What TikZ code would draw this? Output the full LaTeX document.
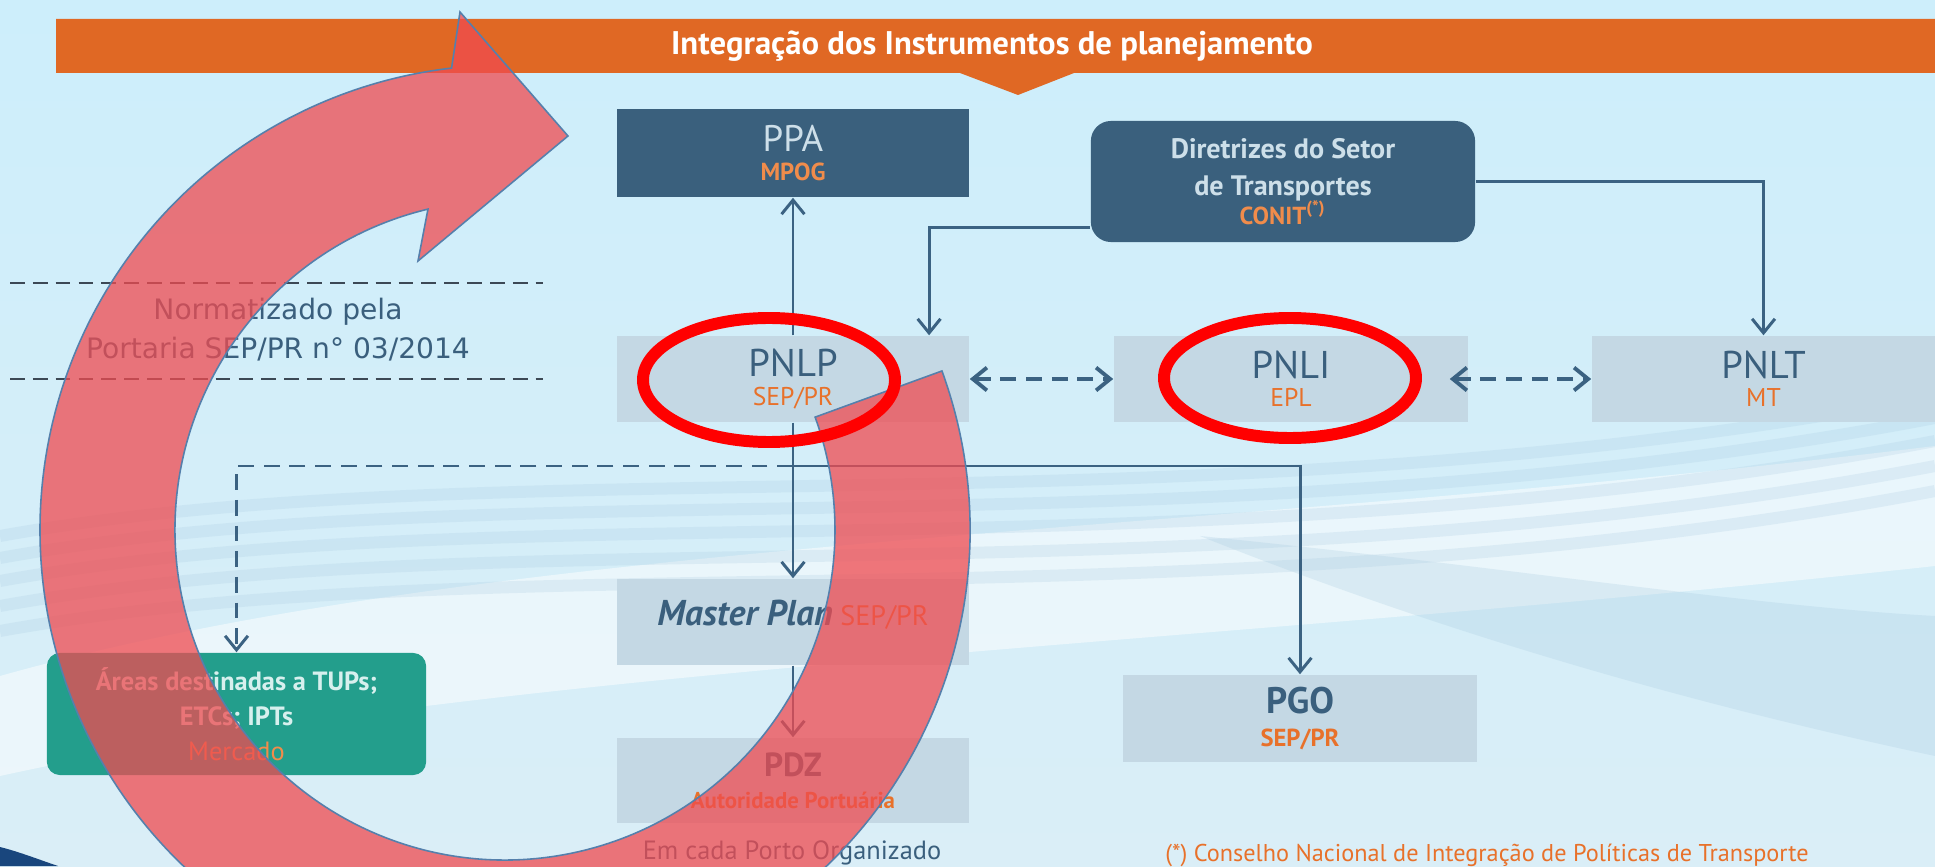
\documentclass[tikz,border=0pt]{standalone}
\usepackage{fontspec}
\setmainfont{PT Sans}
\newfontfamily\dejavu{DejaVu Sans}
\usetikzlibrary{arrows.meta}

\definecolor{bgtop}{RGB}{205,238,251}
\definecolor{bgmid}{RGB}{232,247,252}
\definecolor{bgbot}{RGB}{218,238,247}
\definecolor{onda}{RGB}{165,200,222}
\definecolor{faixa}{RGB}{224,104,36}
\definecolor{caixaesc}{RGB}{58,96,125}
\definecolor{caixaclara}{RGB}{196,216,228}
\definecolor{textoesc}{RGB}{58,95,125}
\definecolor{textoclaro}{RGB}{205,223,233}
\definecolor{laranja}{RGB}{232,113,42}
\definecolor{laranjaclaro}{RGB}{240,140,75}
\definecolor{verde}{RGB}{35,158,140}
\definecolor{verdeclaro}{RGB}{215,240,238}
\definecolor{seta}{RGB}{59,98,130}
\definecolor{tracos}{RGB}{60,72,85}
\definecolor{anel}{RGB}{240,75,80}
\definecolor{contorno}{RGB}{85,128,172}
\definecolor{cantoesc}{RGB}{25,70,125}

\begin{document}
\begin{tikzpicture}[x=0.01cm, y=0.01cm, >={Straight Barb[length=4pt, width=6.5pt]},
	caixa/.style={minimum width=3.52cm, minimum height=0.86cm, inner sep=0pt, align=center},
	clara/.style={caixa, fill=caixaclara, text=textoesc},
	escura/.style={caixa, fill=caixaesc, text=textoclaro},
	link/.style={->, draw=seta, line width=0.85pt},
	dlink/.style={link, dash pattern=on 4.5pt off 2.8pt},
	tracejado/.style={draw=tracos, line width=0.6pt, dash pattern=on 4.2pt off 2.3pt},
	ring/.style={fill=anel, fill opacity=0.75, draw=contorno, line width=0.45pt},
	oval/.style={draw=red, line width=3.4pt}]
	\useasboundingbox (0,0) rectangle (1935,866);
	\clip (0,0) rectangle (1935,866);
	\shade[top color=bgtop, middle color=bgmid, bottom color=bgbot] (0,0) rectangle (1935,866);
	\fill[white, opacity=0.5] (0,190) .. controls (500,330) and (1200,330) .. (1935,420)
		-- (1935,300) .. controls (1200,220) and (500,200) .. (0,90) -- cycle;
	\foreach \d in {0,22,45,70,95}
		{
			\draw[onda, line width=0.12cm, opacity=0.22] (0,330-\d) .. controls
			(500,420-\d) and (1200,330-\d) .. (1935,470-\d);
		}
	\fill[onda, opacity=0.25] (1935,110) .. controls (1700,160) and (1450,230) .. (1200,330)
		.. controls (1500,300) and (1750,260) .. (1935,250) -- cycle;
	\fill[cantoesc] (0,0) -- (0,19) .. controls (20,14) and (40,6) .. (58,0) -- cycle;

	\fill[faixa] (56,793) -- (960,793) -- (1018,771) -- (1074,793) -- (1935,793)
		-- (1935,847) -- (56,847) -- cycle;
	\node[text=white, font=\bfseries\fontsize{9.3}{10}\selectfont] (titulo) at (992,820)
		{Integração dos Instrumentos de planejamento};

	\draw[tracejado] (10,583) -- (543,583);
	\draw[tracejado] (10,487) -- (543,487);
	\node[text=textoesc, align=center, font=\dejavu\fontsize{8}{11.1}\selectfont] (norma) at (278,536)
		{Normatizado pela\\Portaria SEP/PR n° 03/2014};

	\node[escura, minimum height=0.88cm, font=\fontsize{7}{8.4}\selectfont] (ppa) at (793,713)
		{{\fontsize{10.5}{8.4}\selectfont PPA}\\ \textbf{\color{laranjaclaro}MPOG}};
	\node[escura, rounded corners=0.2cm, minimum width=3.84cm, minimum height=1.21cm,
		font=\bfseries\fontsize{8}{10.5}\selectfont] (dir) at (1283,684.5)
		{Diretrizes do Setor\\de Transportes\\[-2.4pt]
		{\color{laranjaclaro}\fontsize{7}{8}\selectfont CONIT\textsuperscript{(*)}}};
	\node[clara, font=\fontsize{7.3}{8}\selectfont] (pnlp) at (793,487)
		{{\fontsize{11}{8}\selectfont PNLP}\\ \color{laranja}SEP/PR};
	\node[clara, minimum width=3.54cm, font=\fontsize{7.3}{8}\selectfont] (pnli) at (1291,487)
		{{\fontsize{11}{8}\selectfont PNLI}\\ \color{laranja}EPL};
	\node[clara, minimum width=3.43cm, font=\fontsize{7.3}{8}\selectfont] (pnlt) at (1763.5,487)
		{{\fontsize{11}{8}\selectfont PNLT}\\ \color{laranja}MT};
	\node[clara, text depth=5.2pt, font=\fontsize{8}{9}\selectfont] (master) at (793,244)
		{{\bfseries\itshape\fontsize{10.2}{11}\selectfont Master Plan} {\color{laranja}SEP/PR}};
	\node[clara, minimum height=0.85cm, font=\bfseries\fontsize{6.5}{9}\selectfont] (pdz) at (793,85.5)
		{{\fontsize{9.5}{9}\selectfont PDZ}\\ \color{laranja}Autoridade Portuária};
	\node[clara, minimum width=3.54cm, minimum height=0.87cm,
		font=\bfseries\fontsize{7}{9.6}\selectfont] (pgo) at (1300,147.5)
		{{\fontsize{10.5}{9.6}\selectfont PGO}\\ \color{laranja}SEP/PR};
	\node[caixa, fill=verde, text=verdeclaro, rounded corners=0.13cm, minimum width=3.79cm,
		minimum height=1.22cm, font=\bfseries\fontsize{7.5}{10}\selectfont] (areas) at (236.5,152)
		{Áreas destinadas a TUPs;\\ETCs; IPTs\\ \mdseries\color{laranjaclaro}Mercado};
	\node[text=textoesc, font=\fontsize{7.5}{9}\selectfont] (porto) at (792,13)
		{Em cada Porto Organizado};
	\node[text=laranja, font=\fontsize{6.9}{8}\selectfont] (nota) at (1487,11)
		{(*) Conselho Nacional de Integração de Políticas de Transporte};

	\coordinate (jn) at (793,400);
	\draw[link] (pnlp) -- (ppa);
	\draw[link] (pnlp) -- (master);
	\draw[link] (jn) -| (pgo);
	\draw[dlink] (jn) -| (areas);
	\draw[link] (master) -- (pdz);
	\draw[link] ([yshift=-0.455cm]dir.west) -| ([xshift=1.36cm]pnlp.north);
	\draw[link] (dir) -| (pnlt);
	\draw[dlink, <->, line width=1.1pt] (pnlp) -- (pnli);
	\draw[dlink, <->, line width=1.1pt] ([xshift=-0.19cm]pnli.east) -- (pnlt);

	\coordinate (c) at (505,336);
	\filldraw[ring] ([shift={(20:330)}]c) -- ([shift={(20:465)}]c)
		arc[start angle=20, end angle=-263.4, radius=465]
		-- (460,854) -- (568,730) -- (418,605) -- ([shift={(103.5:330)}]c)
		arc[start angle=103.5, end angle=380, radius=330] -- cycle;
	\draw[oval] (769,486) ellipse[x radius=126, y radius=62];
	\draw[oval] (1290,488) ellipse[x radius=126, y radius=60];
\end{tikzpicture}
\end{document}
